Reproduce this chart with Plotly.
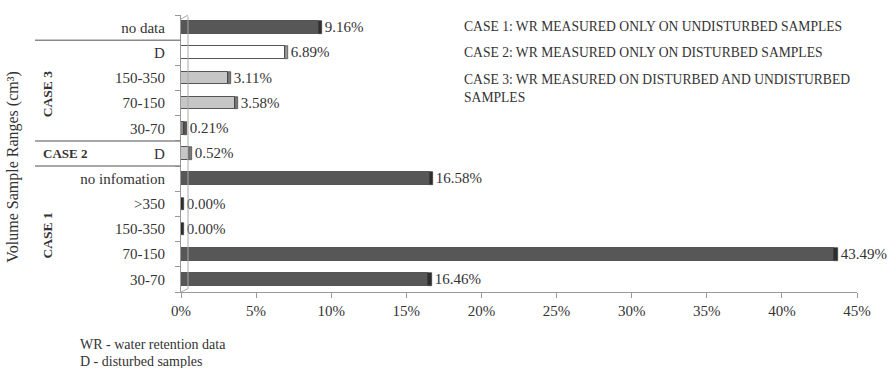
import plotly.graph_objects as go

# Categories listed bottom to top
labels = ["30-70", "70-150", "150-350", ">350", "no infomation",
          "D",
          "30-70", "70-150", "150-350", "D",
          "no data"]
values = [16.46, 43.49, 0.00, 0.00, 16.58,
          0.52,
          0.21, 3.58, 3.11, 6.89,
          9.16]
fills = ["#575757", "#575757", "#575757", "#575757", "#575757",
         "#c6c6c6",
         "#8a8a8a", "#c6c6c6", "#c6c6c6", "#ffffff",
         "#575757"]
caps = ["#2e2e2e", "#2e2e2e", "#2e2e2e", "#2e2e2e", "#2e2e2e",
        "#7a7a7a",
        "#555555", "#7a7a7a", "#7a7a7a", "#9a9a9a",
        "#2e2e2e"]
x_ticks = [0, 5, 10, 15, 20, 25, 30, 35, 40, 45]
case_notes = ["CASE 1: WR MEASURED ONLY ON UNDISTURBED SAMPLES",
              "CASE 2: WR MEASURED ONLY ON DISTURBED SAMPLES",
              "CASE 3: WR MEASURED ON DISTURBED AND UNDISTURBED<br>SAMPLES"]
footnotes = ["WR - water retention data", "D - disturbed samples"]

FONT = "Liberation Serif"
TXT = "#333333"
CAP_DEPTH = 0.22
pos = list(range(len(labels)))


def f(size):
    return dict(family=FONT, size=size, color=TXT)


fig = go.Figure()
# front faces of the bars
fig.add_trace(go.Bar(
    y=pos, x=values, orientation="h", width=0.5,
    marker=dict(color=fills, line=dict(color="#555555", width=1)),
    hoverinfo="skip", showlegend=False,
))
# end faces, carrying the value labels
fig.add_trace(go.Bar(
    y=pos, x=[CAP_DEPTH] * len(values), base=values, orientation="h", width=0.5,
    marker=dict(color=caps, line=dict(color="#333333", width=0.6)),
    text=[f"{v:.2f}%" for v in values], textposition="outside",
    textangle=0, constraintext="none",
    textfont=f(15), outsidetextfont=f(15),
    cliponaxis=False, hoverinfo="skip", showlegend=False,
))

fig.update_layout(
    width=896, height=368,
    margin=dict(l=181, r=39, t=15, b=76),
    paper_bgcolor="white", plot_bgcolor="white",
    barmode="overlay", bargap=0,
    font=f(14),
    xaxis=dict(range=[0, 45], tickvals=x_ticks,
               ticktext=[f"{t}%" for t in x_ticks],
               showgrid=False, zeroline=False, showline=True,
               linecolor="#999999", linewidth=1.2,
               ticks="outside", ticklen=5, tickcolor="#999999",
               tickfont=f(15)),
    yaxis=dict(range=[-0.5, 10.5], tickvals=pos, ticktext=labels,
               showgrid=False, zeroline=False, showline=True,
               linecolor="#999999", linewidth=1.2, ticks="",
               ticklabelstandoff=12,
               tickfont=f(15),
               minor=dict(tickvals=[p - 0.5 for p in pos] + [10.5],
                          ticks="outside", ticklen=5, tickcolor="#999999")),
)

# back-wall edge of the 3D frame
fig.add_shape(type="line", xref="x", yref="paper", xsizemode="pixel", xanchor=0,
              x0=7, x1=7, y0=0.012, y1=0.995, line=dict(color="#aaaaaa", width=1))
fig.add_shape(type="line", xref="x", yref="paper", xsizemode="pixel", xanchor=0,
              x0=0, x1=7, y0=0.0, y1=0.012, line=dict(color="#aaaaaa", width=1))
fig.add_shape(type="line", xref="x", yref="paper", xsizemode="pixel", xanchor=0,
              x0=0, x1=7, y0=0.985, y1=1.0, line=dict(color="#aaaaaa", width=1))

# group separators on the left
for yb in [9.5, 5.5, 4.5]:
    fig.add_shape(type="line", xref="paper", yref="y",
                  x0=-0.216, x1=0.0, y0=yb, y1=yb,
                  line=dict(color="#8a8a8a", width=1.5))

# group names
fig.add_annotation(xref="paper", yref="y", x=-0.198, y=7.36, text="<b>CASE 3</b>",
                   textangle=-90, showarrow=False, font=f(13.5),
                   xanchor="center", yanchor="middle")
fig.add_annotation(xref="paper", yref="y", x=-0.171, y=5, text="<b>CASE 2</b>",
                   showarrow=False, font=f(13),
                   xanchor="center", yanchor="middle")
fig.add_annotation(xref="paper", yref="y", x=-0.198, y=1.75, text="<b>CASE 1</b>",
                   textangle=-90, showarrow=False, font=f(13.5),
                   xanchor="center", yanchor="middle")

# axis title
fig.add_annotation(xref="paper", yref="paper", x=-0.249, y=0.451,
                   text="Volume Sample Ranges (cm³)", textangle=-90,
                   showarrow=False, font=f(16),
                   xanchor="center", yanchor="middle")

# case descriptions
for i, note in enumerate(case_notes):
    fig.add_annotation(xref="paper", yref="paper", x=0.415, y=0.993 - i * 0.095,
                       xanchor="left", yanchor="top", align="left",
                       text=note, showarrow=False, font=f(13.6))

# footnotes
for i, note in enumerate(footnotes):
    fig.add_annotation(xref="paper", yref="paper", x=-0.152, y=-0.19 - i * 0.062,
                       xanchor="left", yanchor="middle", align="left",
                       text=note, showarrow=False, font=f(14))

fig.write_html("out.html")
